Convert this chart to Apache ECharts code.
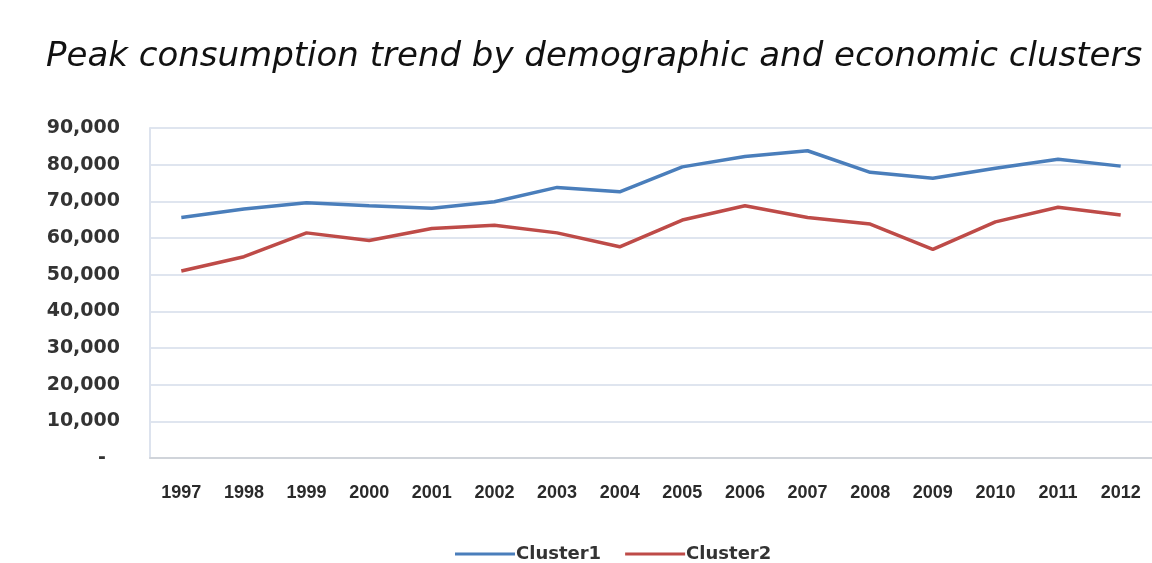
<!DOCTYPE html>
<html>
<head>
<meta charset="utf-8">
<script src="https://cdn.jsdelivr.net/npm/echarts@6/dist/echarts.min.js"></script>
<style>html,body{margin:0;padding:0;background:#fff;}#c{width:1152px;height:563px;}</style>
</head>
<body>
<div id="c"></div>
<script>
var titleText = 'Peak consumption trend by demographic and economic clusters';
var years = ['1997','1998','1999','2000','2001','2002','2003','2004','2005','2006','2007','2008','2009','2010','2011','2012'];
var cluster1 = [65600, 67900, 69600, 68800, 68100, 69900, 73800, 72600, 79400, 82200, 83800, 77900, 76300, 79000, 81500, 79600];
var cluster2 = [51000, 54900, 61400, 59300, 62600, 63500, 61400, 57600, 64900, 68800, 65600, 63800, 56900, 64400, 68400, 66300];
var seriesNames = ['Cluster1', 'Cluster2'];

var chart = echarts.init(document.getElementById('c'), null, {renderer: 'canvas'});
chart.setOption({
  animation: false,
  backgroundColor: '#ffffff',
  title: {
    text: titleText,
    left: 41, top: 35,
    textStyle: {fontFamily: 'DejaVu Sans', fontStyle: 'italic', fontWeight: 'normal', fontSize: 34, color: '#111'}
  },
  legend: {
    top: 540, left: 450,
    itemWidth: 60, itemHeight: 3, itemGap: 24,
    icon: 'rect',
    textStyle: {fontFamily: 'DejaVu Sans', fontWeight: 'bold', fontSize: 18, color: '#333', padding: [0,0,0,-4]},
    data: seriesNames
  },
  grid: {left: 150, right: -11, top: 128, bottom: 105, containLabel: false},
  xAxis: {
    type: 'category', data: years, boundaryGap: true,
    axisLine: {lineStyle: {color: '#d0d4da', width: 2}},
    axisTick: {show: false},
    splitLine: {show: false},
    axisLabel: {margin: 26, fontFamily: 'Liberation Sans', fontWeight: 'bold', fontSize: 18, color: '#2a2a2a'}
  },
  yAxis: {
    type: 'value', min: 0, max: 90000, interval: 10000,
    axisLine: {show: true, lineStyle: {color: '#dde3ee', width: 2}},
    axisTick: {show: false},
    splitLine: {lineStyle: {color: '#d4dcea', width: 1.5}},
    axisLabel: {
      margin: 30, fontFamily: 'DejaVu Sans', fontWeight: 'bold', fontSize: 19, color: '#333',
      formatter: function (v) { return v === 0 ? '{z|-}' : v.toLocaleString('en-US'); },
      rich: {z: {fontFamily: 'DejaVu Sans', fontWeight: 'bold', fontSize: 19, color: '#333', padding: [0, 14, 0, 0]}}
    }
  },
  series: [
    {name: seriesNames[0], type: 'line', data: cluster1, symbol: 'none', lineStyle: {color: '#4a7ebb', width: 3.5}, itemStyle: {color: '#4a7ebb'}},
    {name: seriesNames[1], type: 'line', data: cluster2, symbol: 'none', lineStyle: {color: '#be4b48', width: 3.5}, itemStyle: {color: '#be4b48'}}
  ]
});
</script>
</body>
</html>
